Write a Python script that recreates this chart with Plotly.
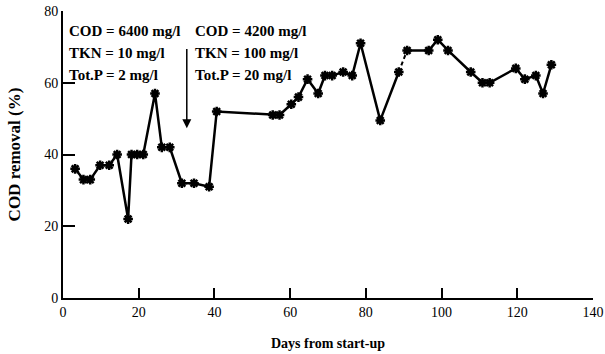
import plotly.graph_objects as go

days = [3.2, 5.4, 7.2, 9.8, 12.2, 14.3, 17.2, 18.1, 19.6, 21.2, 24.3, 26.1, 28.2,
        31.4, 34.6, 38.6, 40.6, 55.4, 57.2, 60.3, 62.2, 64.6, 67.4, 69.2, 71.1,
        74.0, 76.4, 78.6, 83.8, 88.7, 90.9, 96.6, 99.0, 101.7, 107.7, 110.8,
        112.7, 119.6, 122.0, 124.9, 126.8, 129.0]
cod_removal = [36, 33, 33, 37, 37, 40, 22, 40, 40, 40, 57, 42, 42,
               32, 32, 31, 52, 51, 51, 54, 56, 61, 57, 62, 62,
               63, 62, 71, 49.5, 63, 69, 69, 72, 69, 63, 60,
               60, 64, 61, 62, 57, 65]
dashed_after = 29  # index where the segment to the next point is dashed

x_ticks = [0, 20, 40, 60, 80, 100, 120, 140]
y_ticks = [0, 20, 40, 60, 80]

left_labels = ["COD = 6400 mg/l", "TKN = 10 mg/l", "Tot.P = 2 mg/l"]
right_labels = ["COD = 4200 mg/l", "TKN = 100 mg/l", "Tot.P = 20 mg/l"]
label_y = [74.4, 68.3, 62.2]

FONT = "Liberation Serif"

# solid line with a break at the dashed segment
xs, ys = [], []
for i, (d, c) in enumerate(zip(days, cod_removal)):
    xs.append(d)
    ys.append(c)
    if i == dashed_after:
        xs.append(None)
        ys.append(None)

fig = go.Figure()
fig.add_trace(go.Scatter(
    x=days[dashed_after:dashed_after + 2], y=cod_removal[dashed_after:dashed_after + 2],
    mode="lines", line=dict(color="black", width=2, dash="4px,3px"), showlegend=False,
    hoverinfo="skip"))
fig.add_trace(go.Scatter(
    x=xs, y=ys, mode="lines+markers",
    line=dict(color="black", width=2.5),
    marker=dict(symbol="asterisk-open", size=8, color="black",
                line=dict(color="black", width=2.5)),
    showlegend=False))

ann = []
for t, yv in zip(left_labels, label_y):
    ann.append(dict(x=1.0, y=yv, text="<b>" + t + "</b>", showarrow=False, xanchor="left",
                    yanchor="middle", xref="x", yref="y",
                    font=dict(family=FONT, size=15, color="black")))
for t, yv in zip(right_labels, label_y):
    ann.append(dict(x=34.4, y=yv, text="<b>" + t + "</b>", showarrow=False, xanchor="left",
                    yanchor="middle", xref="x", yref="y",
                    font=dict(family=FONT, size=15, color="black")))
ann.append(dict(x=32.7, y=47.3, ax=32.7, ay=69.8, xref="x", yref="y",
                axref="x", ayref="y", showarrow=True, arrowhead=2,
                arrowsize=1.2, arrowwidth=1.5, arrowcolor="black", text=""))

fig.update_layout(
    width=605, height=354,
    margin=dict(l=63, r=12, t=11, b=56, autoexpand=False),
    paper_bgcolor="white", plot_bgcolor="white",
    annotations=ann,
    font=dict(family=FONT, color="black"),
)
fig.update_xaxes(
    range=[0, 140], tickvals=x_ticks, ticks="inside", ticklen=10, tickwidth=1.5,
    tickcolor="black", showline=True, linecolor="black", linewidth=2,
    showgrid=False, zeroline=False, automargin=False,
    tickfont=dict(family=FONT, size=14, color="black"),
    tickprefix="<b>", ticksuffix="</b>",
    title=dict(text="<b>Days from start-up</b>", font=dict(family=FONT, size=14),
               standoff=19),
)
fig.update_yaxes(
    range=[0, 80], tickvals=y_ticks, ticks="inside", ticklen=12, tickwidth=1.5,
    tickcolor="black", showline=True, linecolor="black", linewidth=2,
    showgrid=False, zeroline=False, automargin=False,
    tickfont=dict(family=FONT, size=14, color="black"),
    tickprefix="<b>", ticksuffix="</b>",
    title=dict(text="<b>COD removal (%)</b>", font=dict(family=FONT, size=17),
               standoff=19),
)

fig.write_html(
    "out.html",
    config={"displayModeBar": False},
    post_script="document.body.style.margin='0';document.body.style.overflow='hidden';",
)
